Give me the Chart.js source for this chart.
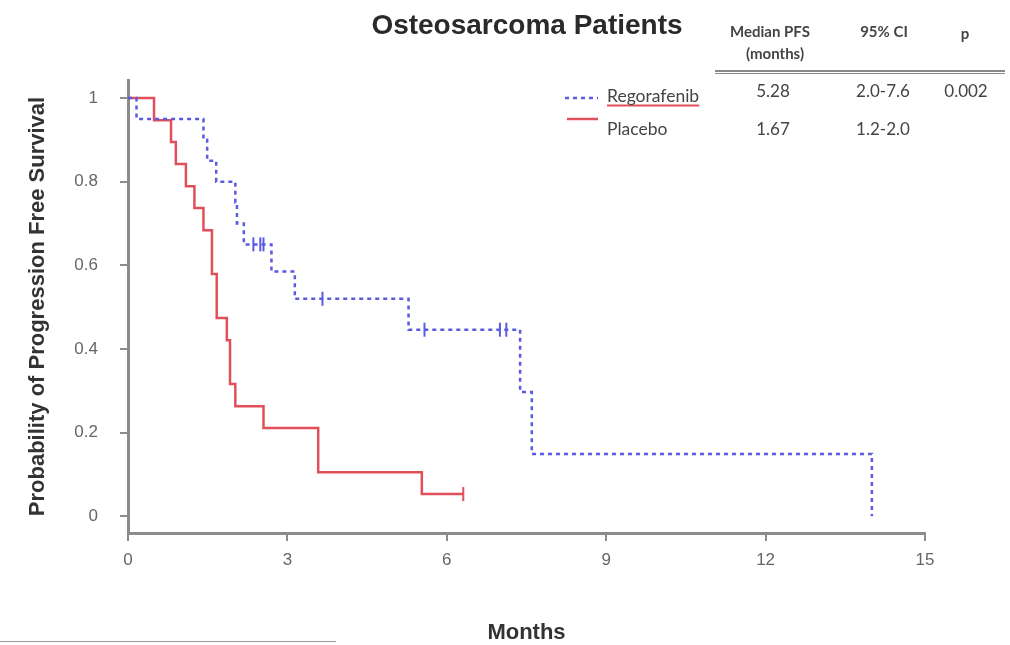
<!DOCTYPE html>
<html>
<head>
<meta charset="utf-8">
<title>Osteosarcoma Patients – Progression Free Survival</title>
<script src="https://cdn.jsdelivr.net/npm/chart.js@4.4.1/dist/chart.umd.min.js"></script>
<style>
  html, body { margin: 0; padding: 0; background: #fff; }
  #wrap { position: relative; width: 1010px; height: 645px; overflow: hidden; }
  #km { position: absolute; left: 0; top: 0; }
  .lbl { position: absolute; white-space: nowrap; transform: translate(-50%, -50%);
         font-family: Lato, "Liberation Sans", sans-serif; color: #3c3c3c; }
  .hdr { font-size: 15px; font-weight: bold; color: #444; }
  .cell { font-size: 17px; color: #444; }
  .title { font-family: "Liberation Sans", Arial, sans-serif; font-weight: bold;
           font-size: 28px; color: #2a2a2a; }
  .leg { position: absolute; white-space: nowrap; font-family: Lato, "Liberation Sans", sans-serif;
         font-size: 17.5px; color: #444; transform: translateY(-50%); }
  .rule { position: absolute; left: 715px; width: 290px; height: 0; border-top: 2px solid #8a8a8a; }
  .foot { position: absolute; left: 0; top: 641px; width: 336px; border-top: 1px solid #9a9a9a; }
</style>
</head>
<body>
<div id="wrap">
  <canvas id="km" width="1010" height="645"></canvas>

  <div class="lbl title" style="left:527px; top:25px;">Osteosarcoma Patients</div>

  <div class="lbl hdr" style="left:770px; top:31px;">Median PFS</div>
  <div class="lbl hdr" style="left:775px; top:53px;">(months)</div>
  <div class="lbl hdr" style="left:884px; top:31px;">95% CI</div>
  <div class="lbl hdr" style="left:965px; top:33px;">p</div>
  <div class="rule" style="top:70px;"></div>
  <div class="rule" style="top:73px; border-top-width:1px;"></div>

  <div class="lbl cell" id="medReg" style="left:773px; top:90px;"></div>
  <div class="lbl cell" id="ciReg" style="left:883px; top:90px;"></div>
  <div class="lbl cell" id="pVal" style="left:966px; top:90px;"></div>
  <div class="lbl cell" id="medPla" style="left:773px; top:128px;"></div>
  <div class="lbl cell" id="ciPla" style="left:883px; top:128px;"></div>

  <svg style="position:absolute; left:560px; top:88px;" width="45" height="40">
    <line x1="5" y1="10" x2="38" y2="10" stroke="#5a5ae2" stroke-width="2.5" stroke-dasharray="4 4"/>
    <line x1="7" y1="31" x2="38" y2="31" stroke="#e0505a" stroke-width="2.5"/>
  </svg>
  <div class="leg" id="legReg" style="left:607px; top:95px; text-decoration: underline; text-decoration-color:#e0505a; text-decoration-thickness:2px; text-underline-offset:3px;"></div>
  <div class="leg" id="legPla" style="left:607px; top:128px;"></div>

  <div class="foot"></div>
</div>

<script>
// Kaplan–Meier estimates: event times (months) and survival after each step
const monthTicks = [0, 3, 6, 9, 12, 15];
const survivalTicks = [0, 0.2, 0.4, 0.6, 0.8, 1];

const regorafenibMonths   = [0, 0.16, 1.42, 1.49, 1.66, 2.02, 2.05, 2.18, 2.70, 3.14, 5.28, 7.38, 7.60, 14.0];
const regorafenibSurvival = [1, 0.95, 0.90, 0.85, 0.80, 0.75, 0.70, 0.65, 0.585, 0.52, 0.446, 0.297, 0.149, 0];
const regorafenibCensored = [2.36, 2.49, 2.55, 3.66, 5.58, 7.00, 7.12];

const placeboMonths   = [0, 0.49, 0.81, 0.90, 1.09, 1.25, 1.42, 1.58, 1.67, 1.86, 1.92, 2.02, 2.55, 3.58, 5.53, 6.31];
const placeboSurvival = [1, 0.947, 0.895, 0.842, 0.789, 0.737, 0.684, 0.579, 0.474, 0.421, 0.316, 0.263, 0.211, 0.105, 0.053, 0.053];
const placeboCensored = [6.31];

// Summary table
const groupNames  = ['Regorafenib', 'Placebo'];
const medianPFS   = ['5.28', '1.67'];
const ci95        = ['2.0-7.6', '1.2-2.0'];
const pValue      = '0.002';

const BLUE = '#5a5ae2';
const RED  = '#e0505a';
const AXIS = '#8c8c8c';

document.getElementById('legReg').textContent = groupNames[0];
document.getElementById('legPla').textContent = groupNames[1];
document.getElementById('medReg').textContent = medianPFS[0];
document.getElementById('medPla').textContent = medianPFS[1];
document.getElementById('ciReg').textContent = ci95[0];
document.getElementById('ciPla').textContent = ci95[1];
document.getElementById('pVal').textContent = pValue;

const toPoints = (xs, ys) => xs.map((x, i) => ({ x, y: ys[i] }));

// survival level of a step curve at a given time (for placing censor marks)
function levelAt(xs, ys, t) {
  let v = ys[0];
  for (let i = 0; i < xs.length; i++) { if (xs[i] <= t) v = ys[i]; }
  return v;
}
const censorPoints = (times, xs, ys) => times.map(t => ({ x: t, y: levelAt(xs, ys, t) }));

new Chart(document.getElementById('km'), {
  type: 'line',
  data: {
    datasets: [
      {
        label: groupNames[0],
        data: toPoints(regorafenibMonths, regorafenibSurvival),
        stepped: true,
        borderColor: BLUE,
        borderWidth: 2.5,
        borderDash: [4, 4],
        pointRadius: 0,
        fill: false
      },
      {
        label: groupNames[1],
        data: toPoints(placeboMonths, placeboSurvival),
        stepped: true,
        borderColor: RED,
        borderWidth: 2.5,
        pointRadius: 0,
        fill: false
      },
      {
        type: 'scatter',
        label: groupNames[0] + ' censored',
        data: censorPoints(regorafenibCensored, regorafenibMonths, regorafenibSurvival),
        pointStyle: 'line',
        rotation: 90,
        pointRadius: 7,
        borderColor: BLUE,
        borderWidth: 2,
        showLine: false
      },
      {
        type: 'scatter',
        label: groupNames[1] + ' censored',
        data: censorPoints(placeboCensored, placeboMonths, placeboSurvival),
        pointStyle: 'line',
        rotation: 90,
        pointRadius: 7,
        borderColor: RED,
        borderWidth: 2,
        showLine: false
      }
    ]
  },
  options: {
    responsive: false,
    animation: false,
    layout: { padding: { left: 0, right: 85, top: 80, bottom: 0 } },
    plugins: { legend: { display: false }, tooltip: { enabled: false }, title: { display: false } },
    scales: {
      x: {
        type: 'linear',
        min: 0, max: 15,
        afterBuildTicks: s => { s.ticks = monthTicks.map(v => ({ value: v })); },
        afterFit: s => { s.height = 112; },
        ticks: {
          color: '#666',
          font: { family: 'Liberation Sans', size: 17 },
          padding: 9,
          maxRotation: 0,
          callback: v => String(v)
        },
        grid: { drawOnChartArea: false, drawTicks: true, tickLength: 8, color: AXIS, lineWidth: 2 },
        border: { display: true, color: AXIS, width: 3 },
        title: {
          display: true, text: 'Months', color: '#333',
          font: { family: 'Liberation Sans', size: 22, weight: 'bold', lineHeight: 1.0 },
          padding: { top: 0, bottom: 1 }
        }
      },
      y: {
        type: 'linear',
        min: -0.04, max: 1.043,
        afterBuildTicks: s => { s.ticks = survivalTicks.map(v => ({ value: v })); },
        afterFit: s => { s.width = 128; },
        ticks: {
          color: '#666',
          font: { family: 'Liberation Sans', size: 17 },
          padding: 22,
          callback: v => String(v)
        },
        grid: { drawOnChartArea: false, drawTicks: true, tickLength: 8, color: AXIS, lineWidth: 2 },
        border: { display: true, color: AXIS, width: 3 },
        title: {
          display: true, text: 'Probability of Progression Free Survival', color: '#333',
          font: { family: 'Liberation Sans', size: 22, weight: 'bold', lineHeight: 1.2 },
          padding: { top: 25, bottom: 0 }
        }
      }
    }
  }
});
</script>
</body>
</html>
